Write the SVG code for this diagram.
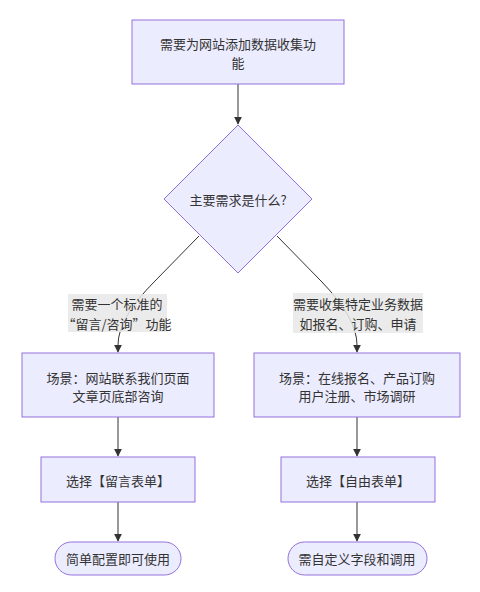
<svg xmlns="http://www.w3.org/2000/svg" width="480" height="592" viewBox="0 0 480 592">
<style>
.node rect,.node polygon{fill:#ECECFF;stroke:#9370DB;stroke-width:1}
text{font-family:"Noto Sans CJK SC","Liberation Sans",sans-serif;font-size:13px;fill:#333;text-anchor:middle;dominant-baseline:central}
.edge{fill:none;stroke:#333;stroke-width:1}
.lbl{fill:#E8E8E8;opacity:0.85}
</style>
<defs>
<marker id="arr" viewBox="0 0 10 10" refX="9" refY="5" markerWidth="8" markerHeight="8" markerUnits="userSpaceOnUse" orient="auto">
<path d="M0,0 L10,5 L0,10 z" fill="#333"/>
</marker>
</defs>
<rect width="480" height="592" fill="#fff"/>
<g id="edges">
<path class="edge" d="M238,84 L238,124" marker-end="url(#arr)"/>
<path class="edge" d="M199,236 L155,281 Q118,318 118,345 L118,352" marker-end="url(#arr)"/>
<path class="edge" d="M277,236 L321,281 Q357,318 357,345 L357,352" marker-end="url(#arr)"/>
<path class="edge" d="M118,417 L118,456" marker-end="url(#arr)"/>
<path class="edge" d="M357,417 L357,456" marker-end="url(#arr)"/>
<path class="edge" d="M118,502 L118,541" marker-end="url(#arr)"/>
<path class="edge" d="M357,502 L357,541" marker-end="url(#arr)"/>
</g>
<g id="edgeLabels">
<g id="label-left">
<rect class="lbl" x="68" y="294" width="99" height="38"/>
<text x="117" y="303">需要一个标准的</text>
<text x="117" y="323">“留言/咨询”功能</text>
</g>
<g id="label-right">
<rect class="lbl" x="293" y="293" width="130" height="40"/>
<text x="358" y="303">需要收集特定业务数据</text>
<text x="358" y="323">如报名、订购、申请</text>
</g>
</g>
<g id="A" class="node">
<rect x="132" y="20" width="212" height="64"/>
<text x="238" y="43">需要为网站添加数据收集功</text>
<text x="238" y="62">能</text>
</g>
<g id="B" class="node">
<polygon points="238,125 312,199 238,273 164,199"/>
<text x="238" y="199">主要需求是什么?</text>
</g>
<g id="C" class="node">
<rect x="22" y="353" width="192" height="64"/>
<text x="118" y="377">场景：网站联系我们页面</text>
<text x="118" y="395">文章页底部咨询</text>
</g>
<g id="D" class="node">
<rect x="254" y="353" width="206" height="64"/>
<text x="357" y="377">场景：在线报名、产品订购</text>
<text x="357" y="395">用户注册、市场调研</text>
</g>
<g id="E" class="node">
<rect x="41" y="457" width="154" height="45"/>
<text x="118" y="480">选择【留言表单】</text>
</g>
<g id="F" class="node">
<rect x="281" y="457" width="154" height="45"/>
<text x="358" y="480">选择【自由表单】</text>
</g>
<g id="G" class="node">
<rect x="55" y="542" width="126" height="33" rx="16.5" ry="16.5"/>
<text x="118" y="558">简单配置即可使用</text>
</g>
<g id="H" class="node">
<rect x="288" y="542" width="139" height="33" rx="16.5" ry="16.5"/>
<text x="357" y="558">需自定义字段和调用</text>
</g>
</svg>
